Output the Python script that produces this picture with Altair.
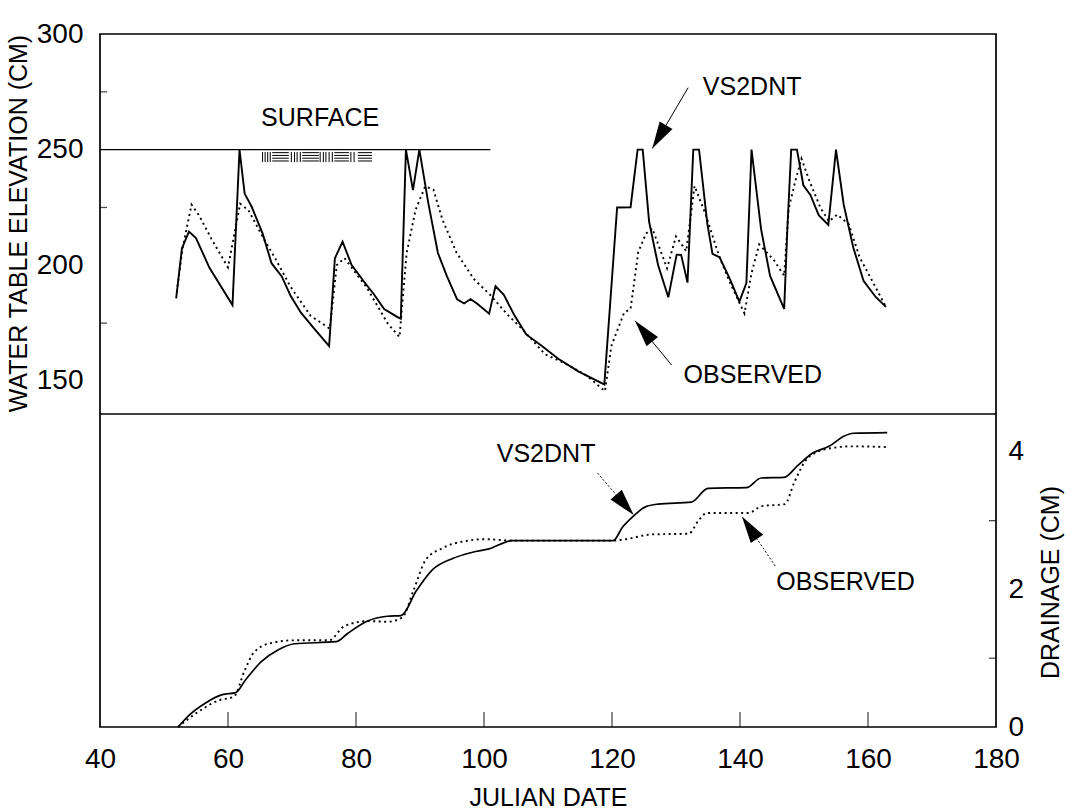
import math
import altair as alt
import pandas as pd

# ---------------- data ----------------
# Water table elevation (cm) by Julian day: VS2DNT simulation and observations
TOP_DAY_SIM = [51.9, 52.8, 53.9, 55.0, 57.1, 60.7, 61.8, 62.6, 63.7, 65.4, 66.8, 68.4, 69.8, 71.4,
               73.5, 75.8, 76.7, 77.9, 79.3, 81.2, 82.8, 84.4, 86.5, 87.0, 87.8, 88.9, 89.9, 91.3,
               92.8, 94.2, 95.8, 96.9, 97.9, 99.0, 100.8, 101.8, 103.1, 104.7, 106.6, 109.0, 111.6,
               114.8, 118.8, 120.8, 122.9, 124.0, 124.8, 125.8, 127.2, 128.8, 130.1, 130.8, 131.8,
               132.7, 133.6, 134.9, 135.7, 136.8, 138.5, 139.9, 141.0, 141.8, 143.3, 144.7, 146.9,
               147.4, 148.0, 148.9, 149.9, 151.0, 152.3, 153.8, 155.0, 156.2, 157.7, 159.3, 161.2,
               162.8]
TOP_SIM = [185.7, 207.3, 214.6, 211.8, 198.9, 182.8, 250.0, 231.0, 225.3, 213.8, 200.9, 195.2,
           186.7, 179.5, 172.5, 165.1, 203.0, 210.2, 200.2, 193.1, 187.5, 181.1, 177.6, 176.9,
           250.0, 232.5, 250.0, 226.9, 205.3, 195.3, 185.3, 183.5, 185.4, 183.3, 179.1, 191.0,
           187.2, 178.6, 170.1, 165.2, 159.6, 154.0, 148.5, 225.0, 225.1, 250.0, 250.0, 218.8,
           200.1, 186.2, 204.6, 204.5, 192.5, 250.0, 250.0, 217.9, 204.9, 203.5, 193.6, 184.3,
           192.3, 250.0, 215.5, 195.4, 181.1, 215.7, 250.0, 250.0, 234.6, 230.4, 221.7, 217.5,
           250.0, 226.3, 207.7, 193.3, 186.3, 182.0]

TOP_DAY_OBS = [52.0, 52.9, 54.3, 55.4, 57.6, 60.0, 61.9, 63.2, 65.4, 67.5, 69.7, 72.9, 75.9, 77.0,
               78.2, 81.7, 84.4, 85.0, 86.8, 87.9, 89.3, 90.8, 92.1, 93.5, 95.7, 98.4, 101.0,
               103.7, 106.3, 109.5, 112.7, 115.9, 118.9, 119.9, 121.9, 122.9, 124.1, 125.3, 126.3,
               128.6, 130.0, 131.6, 132.9, 134.6, 136.8, 138.5, 140.7, 141.8, 143.0, 145.2, 146.9,
               147.6, 148.6, 149.6, 150.9, 152.6, 153.9, 155.2, 157.0, 158.7, 160.9, 162.8]
TOP_OBS = [188.5, 207.3, 226.2, 221.9, 210.5, 199.1, 226.6, 223.8, 212.4, 202.4, 191.0, 178.2,
           172.6, 200.1, 203.1, 190.3, 177.5, 174.6, 169.0, 205.1, 223.9, 234.1, 232.7, 219.8,
           205.5, 194.1, 187.1, 178.6, 171.5, 161.6, 157.5, 152.6, 145.6, 165.1, 179.6, 181.1,
           205.7, 213.7, 215.9, 198.7, 212.5, 206.1, 234.3, 222.2, 203.5, 192.1, 179.2, 196.6,
           209.0, 202.6, 195.5, 224.4, 236.0, 246.1, 236.1, 224.7, 219.0, 221.9, 217.7, 203.4,
           192.0, 182.0]

# Cumulative drainage (cm)
BOT_DAY_SIM = [52.2, 53.9, 56.5, 59.1, 61.2, 62.7, 65.2, 67.8, 70.4, 76.9, 78.7, 81.8, 84.9, 87.0,
               89.5, 92.0, 95.1, 98.2, 100.8, 104.4, 120.2, 121.6, 123.4, 125.2, 127.2, 132.4,
               135.0, 141.0, 143.3, 146.9, 149.0, 151.3, 153.9, 156.3, 157.7, 163.0]
BOT_SIM = [0.0, 0.17, 0.35, 0.47, 0.50, 0.68, 0.95, 1.12, 1.21, 1.24, 1.36, 1.54, 1.61, 1.62,
           1.99, 2.29, 2.45, 2.54, 2.59, 2.71, 2.71, 2.90, 3.07, 3.20, 3.24, 3.27, 3.47, 3.48,
           3.62, 3.63, 3.80, 3.98, 4.08, 4.23, 4.27, 4.28]
BOT_DAY_OBS = [52.2, 55.5, 58.6, 60.9, 62.6, 64.1, 66.7, 70.4, 75.8, 78.1, 81.8, 84.9, 87.2, 89.0,
               90.9, 93.5, 97.6, 100.2, 104.4, 120.2, 122.1, 126.3, 132.0, 133.5, 134.8, 141.3,
               143.4, 147.0, 148.5, 150.3, 152.1, 154.7, 157.3, 163.0]
BOT_OBS = [0.0, 0.23, 0.39, 0.44, 0.82, 1.09, 1.22, 1.26, 1.26, 1.46, 1.54, 1.53, 1.59, 1.99,
           2.43, 2.60, 2.71, 2.73, 2.71, 2.71, 2.73, 2.80, 2.81, 3.00, 3.11, 3.11, 3.21, 3.24,
           3.56, 3.88, 4.00, 4.06, 4.08, 4.07]

# Axis values
X_LABELS = [40, 60, 80, 100, 120, 140, 160, 180]
X_TICKS = [60, 80, 100, 120, 140, 160]
ELEV_LABELS = [150, 200, 250, 300]
ELEV_TICKS = [175, 225, 275]
DRAIN_LABELS = [0, 2, 4]
DRAIN_TICKS = [1, 3]

# Land surface line and its ground symbol
SURFACE_START, SURFACE_END, SURFACE_LEVEL = 40, 101, 250
HATCH_VERTICAL_X = [65.4, 65.8, 66.2, 66.6, 69.9, 70.4, 70.8, 71.3,
                    74.4, 74.9, 75.3, 75.8, 76.3, 79.2, 79.7]
HATCH_TOP, HATCH_BOTTOM = 249.0, 244.6
HATCH_BLOCK_START = [66.9, 71.6, 76.6, 80.3]
HATCH_BLOCK_END = [69.5, 74.2, 78.9, 82.5]
HATCH_LEVELS = [248.7, 247.5, 246.3, 245.1]

# Annotations
TOP_LABEL_TEXT = ["SURFACE", "VS2DNT", "OBSERVED"]
TOP_LABEL_X = [74.4, 141.9, 142.0]
TOP_LABEL_Y = [263.5, 277.0, 152.6]
BOT_LABEL_TEXT = ["VS2DNT", "OBSERVED"]
BOT_LABEL_X = [109.7, 156.5]
BOT_LABEL_Y = [3.97, 2.11]

TOP_ARROW_TAIL_X = [131.9, 129.3]
TOP_ARROW_TAIL_Y = [276.8, 156.9]
TOP_ARROW_TIP_X = [126.3, 123.6]
TOP_ARROW_TIP_Y = [250.5, 176.0]
BOT_ARROW_TAIL_X = [117.75, 145.5]
BOT_ARROW_TAIL_Y = [3.69, 2.34]
BOT_ARROW_TIP_X = [123.4, 140.3]
BOT_ARROW_TIP_Y = [3.08, 3.06]

# ---------------- layout ----------------
W, H = 896, 693          # whole plotting frame
SPLIT = 380              # pixel row where the upper panel ends
X_MIN, X_MAX = 40, 180
TOP_MIN, TOP_MAX = 135.7, 300
BOT_MIN, BOT_MAX = 0, 4.55
FONT = "Liberation Sans"
INK = "black"
LINE_W = 1.9

x_scale = alt.Scale(domain=[X_MIN, X_MAX], nice=False, zero=False)
top_scale = alt.Scale(domain=[TOP_MIN, TOP_MAX], range=[SPLIT, 0], nice=False, zero=False)
bot_scale = alt.Scale(domain=[BOT_MIN, BOT_MAX], range=[H, SPLIT], nice=False, zero=False)

common_axis = dict(domain=False, ticks=False, tickSize=0, grid=False, labelFlush=False,
                   labelOverlap=False, labelFont=FONT, labelFontSize=28, labelColor=INK,
                   titleFont=FONT, titleFontSize=25, titleFontWeight="normal", titleColor=INK,
                   format="d")

x_axis = alt.Axis(orient="bottom", values=X_LABELS, labelPadding=18, title="JULIAN DATE",
                  titleY=70, titleBaseline="middle", **common_axis)
top_axis = alt.Axis(orient="left", values=ELEV_LABELS, labelPadding=17,
                    title="WATER TABLE ELEVATION (CM)", titleAngle=270, titleX=-82, titleY=189,
                    titleBaseline="middle", **common_axis)
bot_axis = alt.Axis(orient="right", values=DRAIN_LABELS, labelPadding=12,
                    title="DRAINAGE (CM)", titleAngle=270, titleX=54, titleY=548,
                    titleBaseline="middle", **common_axis)


def X(field):
    return alt.X(field, type="quantitative", scale=x_scale, axis=x_axis)


def YT(field):
    return alt.Y(field, type="quantitative", scale=top_scale, axis=top_axis)


def YB(field):
    return alt.Y(field, type="quantitative", scale=bot_scale, axis=bot_axis)


PX_DAY = W / (X_MAX - X_MIN)
PX_TOP = SPLIT / (TOP_MAX - TOP_MIN)
PX_BOT = (H - SPLIT) / (BOT_MAX - BOT_MIN)
ARROW_HEAD = "M0,0L0.55,2L-0.55,2Z"   # tip at the anchor, pointing up


def arrow_frame(tx, ty, hx, hy, px_y):
    rows = []
    for x0, y0, x1, y1 in zip(tx, ty, hx, hy):
        dx = (x1 - x0) * PX_DAY
        dy = -(y1 - y0) * px_y
        ang = math.degrees(math.atan2(dx, -dy)) % 360
        rows.append({"x0": x0, "y0": y0, "x1": x1, "y1": y1, "angle": ang})
    return pd.DataFrame(rows)


# ---------------- upper panel ----------------
top_sim = alt.Chart(pd.DataFrame({"day": TOP_DAY_SIM, "elev": TOP_SIM})).mark_line(
    color=INK, strokeWidth=LINE_W).encode(x=X("day"), y=YT("elev"))
top_obs = alt.Chart(pd.DataFrame({"day": TOP_DAY_OBS, "elev": TOP_OBS})).mark_line(
    color=INK, strokeWidth=LINE_W, strokeDash=[2, 3.5]).encode(x=X("day"), y=YT("elev"))

surface = alt.Chart(pd.DataFrame({"x0": [SURFACE_START], "x1": [SURFACE_END],
                                  "y": [SURFACE_LEVEL]})).mark_rule(
    color=INK, strokeWidth=1.4).encode(x=X("x0"), x2="x1", y=YT("y"))

hatch_v = alt.Chart(pd.DataFrame({"x": HATCH_VERTICAL_X,
                                  "y0": [HATCH_TOP] * len(HATCH_VERTICAL_X),
                                  "y1": [HATCH_BOTTOM] * len(HATCH_VERTICAL_X)})).mark_rule(
    color=INK, strokeWidth=1).encode(x=X("x"), y=YT("y0"), y2="y1")
hatch_rows = [{"x0": a, "x1": b, "y": lv}
              for a, b in zip(HATCH_BLOCK_START, HATCH_BLOCK_END) for lv in HATCH_LEVELS]
hatch_h = alt.Chart(pd.DataFrame(hatch_rows)).mark_rule(color=INK, strokeWidth=1).encode(
    x=X("x0"), x2="x1", y=YT("y"))

divider = alt.Chart(pd.DataFrame({"x0": [X_MIN], "x1": [X_MAX], "y": [TOP_MIN]})).mark_rule(
    color=INK, strokeWidth=1.7).encode(x=X("x0"), x2="x1", y=YT("y"))

elev_ticks = alt.Chart(pd.DataFrame({"x": [X_MIN] * len(ELEV_TICKS), "y": ELEV_TICKS})).mark_tick(
    orient="horizontal", size=7, thickness=1.3, xOffset=3.5, color=INK).encode(
    x=X("x"), y=YT("y"))

top_text = alt.Chart(pd.DataFrame({"x": TOP_LABEL_X, "y": TOP_LABEL_Y,
                                   "t": TOP_LABEL_TEXT})).mark_text(
    font=FONT, fontSize=25, color=INK, align="center", baseline="middle").encode(
    x=X("x"), y=YT("y"), text="t:N")

top_arrows = arrow_frame(TOP_ARROW_TAIL_X, TOP_ARROW_TAIL_Y, TOP_ARROW_TIP_X, TOP_ARROW_TIP_Y,
                         PX_TOP)
top_arrow_lines = alt.Chart(top_arrows).mark_rule(color=INK, strokeWidth=1).encode(
    x=X("x0"), y=YT("y0"), x2="x1", y2="y1")
top_arrow_heads = alt.Chart(top_arrows).mark_point(
    shape=ARROW_HEAD, filled=True, size=729, color=INK, opacity=1, strokeWidth=0).encode(
    x=X("x1"), y=YT("y1"), angle=alt.Angle("angle:Q", scale=None))

upper = alt.layer(top_sim, top_obs, surface, hatch_v, hatch_h, divider, elev_ticks,
                  top_arrow_lines, top_arrow_heads, top_text)

# ---------------- lower panel ----------------
bot_sim = alt.Chart(pd.DataFrame({"day": BOT_DAY_SIM, "drain": BOT_SIM})).mark_line(
    color=INK, strokeWidth=1.7, interpolate="monotone").encode(x=X("day"), y=YB("drain"))
bot_obs = alt.Chart(pd.DataFrame({"day": BOT_DAY_OBS, "drain": BOT_OBS})).mark_line(
    color=INK, strokeWidth=LINE_W, strokeDash=[2, 3.5], interpolate="monotone").encode(
    x=X("day"), y=YB("drain"))

x_ticks = alt.Chart(pd.DataFrame({"x": X_TICKS, "y": [BOT_MIN] * len(X_TICKS)})).mark_tick(
    orient="vertical", size=15, thickness=1.3, yOffset=-7.5, color=INK).encode(
    x=X("x"), y=YB("y"))
drain_ticks = alt.Chart(pd.DataFrame({"x": [X_MAX] * len(DRAIN_TICKS), "y": DRAIN_TICKS})).mark_tick(
    orient="horizontal", size=7, thickness=1.3, xOffset=-3.5, color=INK).encode(
    x=X("x"), y=YB("y"))

bot_text = alt.Chart(pd.DataFrame({"x": BOT_LABEL_X, "y": BOT_LABEL_Y,
                                   "t": BOT_LABEL_TEXT})).mark_text(
    font=FONT, fontSize=25, color=INK, align="center", baseline="middle").encode(
    x=X("x"), y=YB("y"), text="t:N")

bot_arrows = arrow_frame(BOT_ARROW_TAIL_X, BOT_ARROW_TAIL_Y, BOT_ARROW_TIP_X, BOT_ARROW_TIP_Y,
                         PX_BOT)
bot_arrow_lines = alt.Chart(bot_arrows).mark_rule(
    color=INK, strokeWidth=1, strokeDash=[2, 2]).encode(x=X("x0"), y=YB("y0"), x2="x1", y2="y1")
bot_arrow_heads = alt.Chart(bot_arrows).mark_point(
    shape=ARROW_HEAD, filled=True, size=729, color=INK, opacity=1, strokeWidth=0).encode(
    x=X("x1"), y=YB("y1"), angle=alt.Angle("angle:Q", scale=None))

lower = alt.layer(bot_sim, bot_obs, x_ticks, drain_ticks, bot_arrow_lines, bot_arrow_heads,
                  bot_text)

chart = alt.layer(upper, lower).resolve_scale(y="independent").properties(
    width=W, height=H,
    autosize=alt.AutoSizeParams(type="none"),
    padding={"left": 100, "top": 34, "right": 81, "bottom": 85},
    background="white",
).configure_view(stroke=INK, strokeWidth=1.7)

chart.save("out.html", embed_options={"renderer": "svg", "actions": False})
